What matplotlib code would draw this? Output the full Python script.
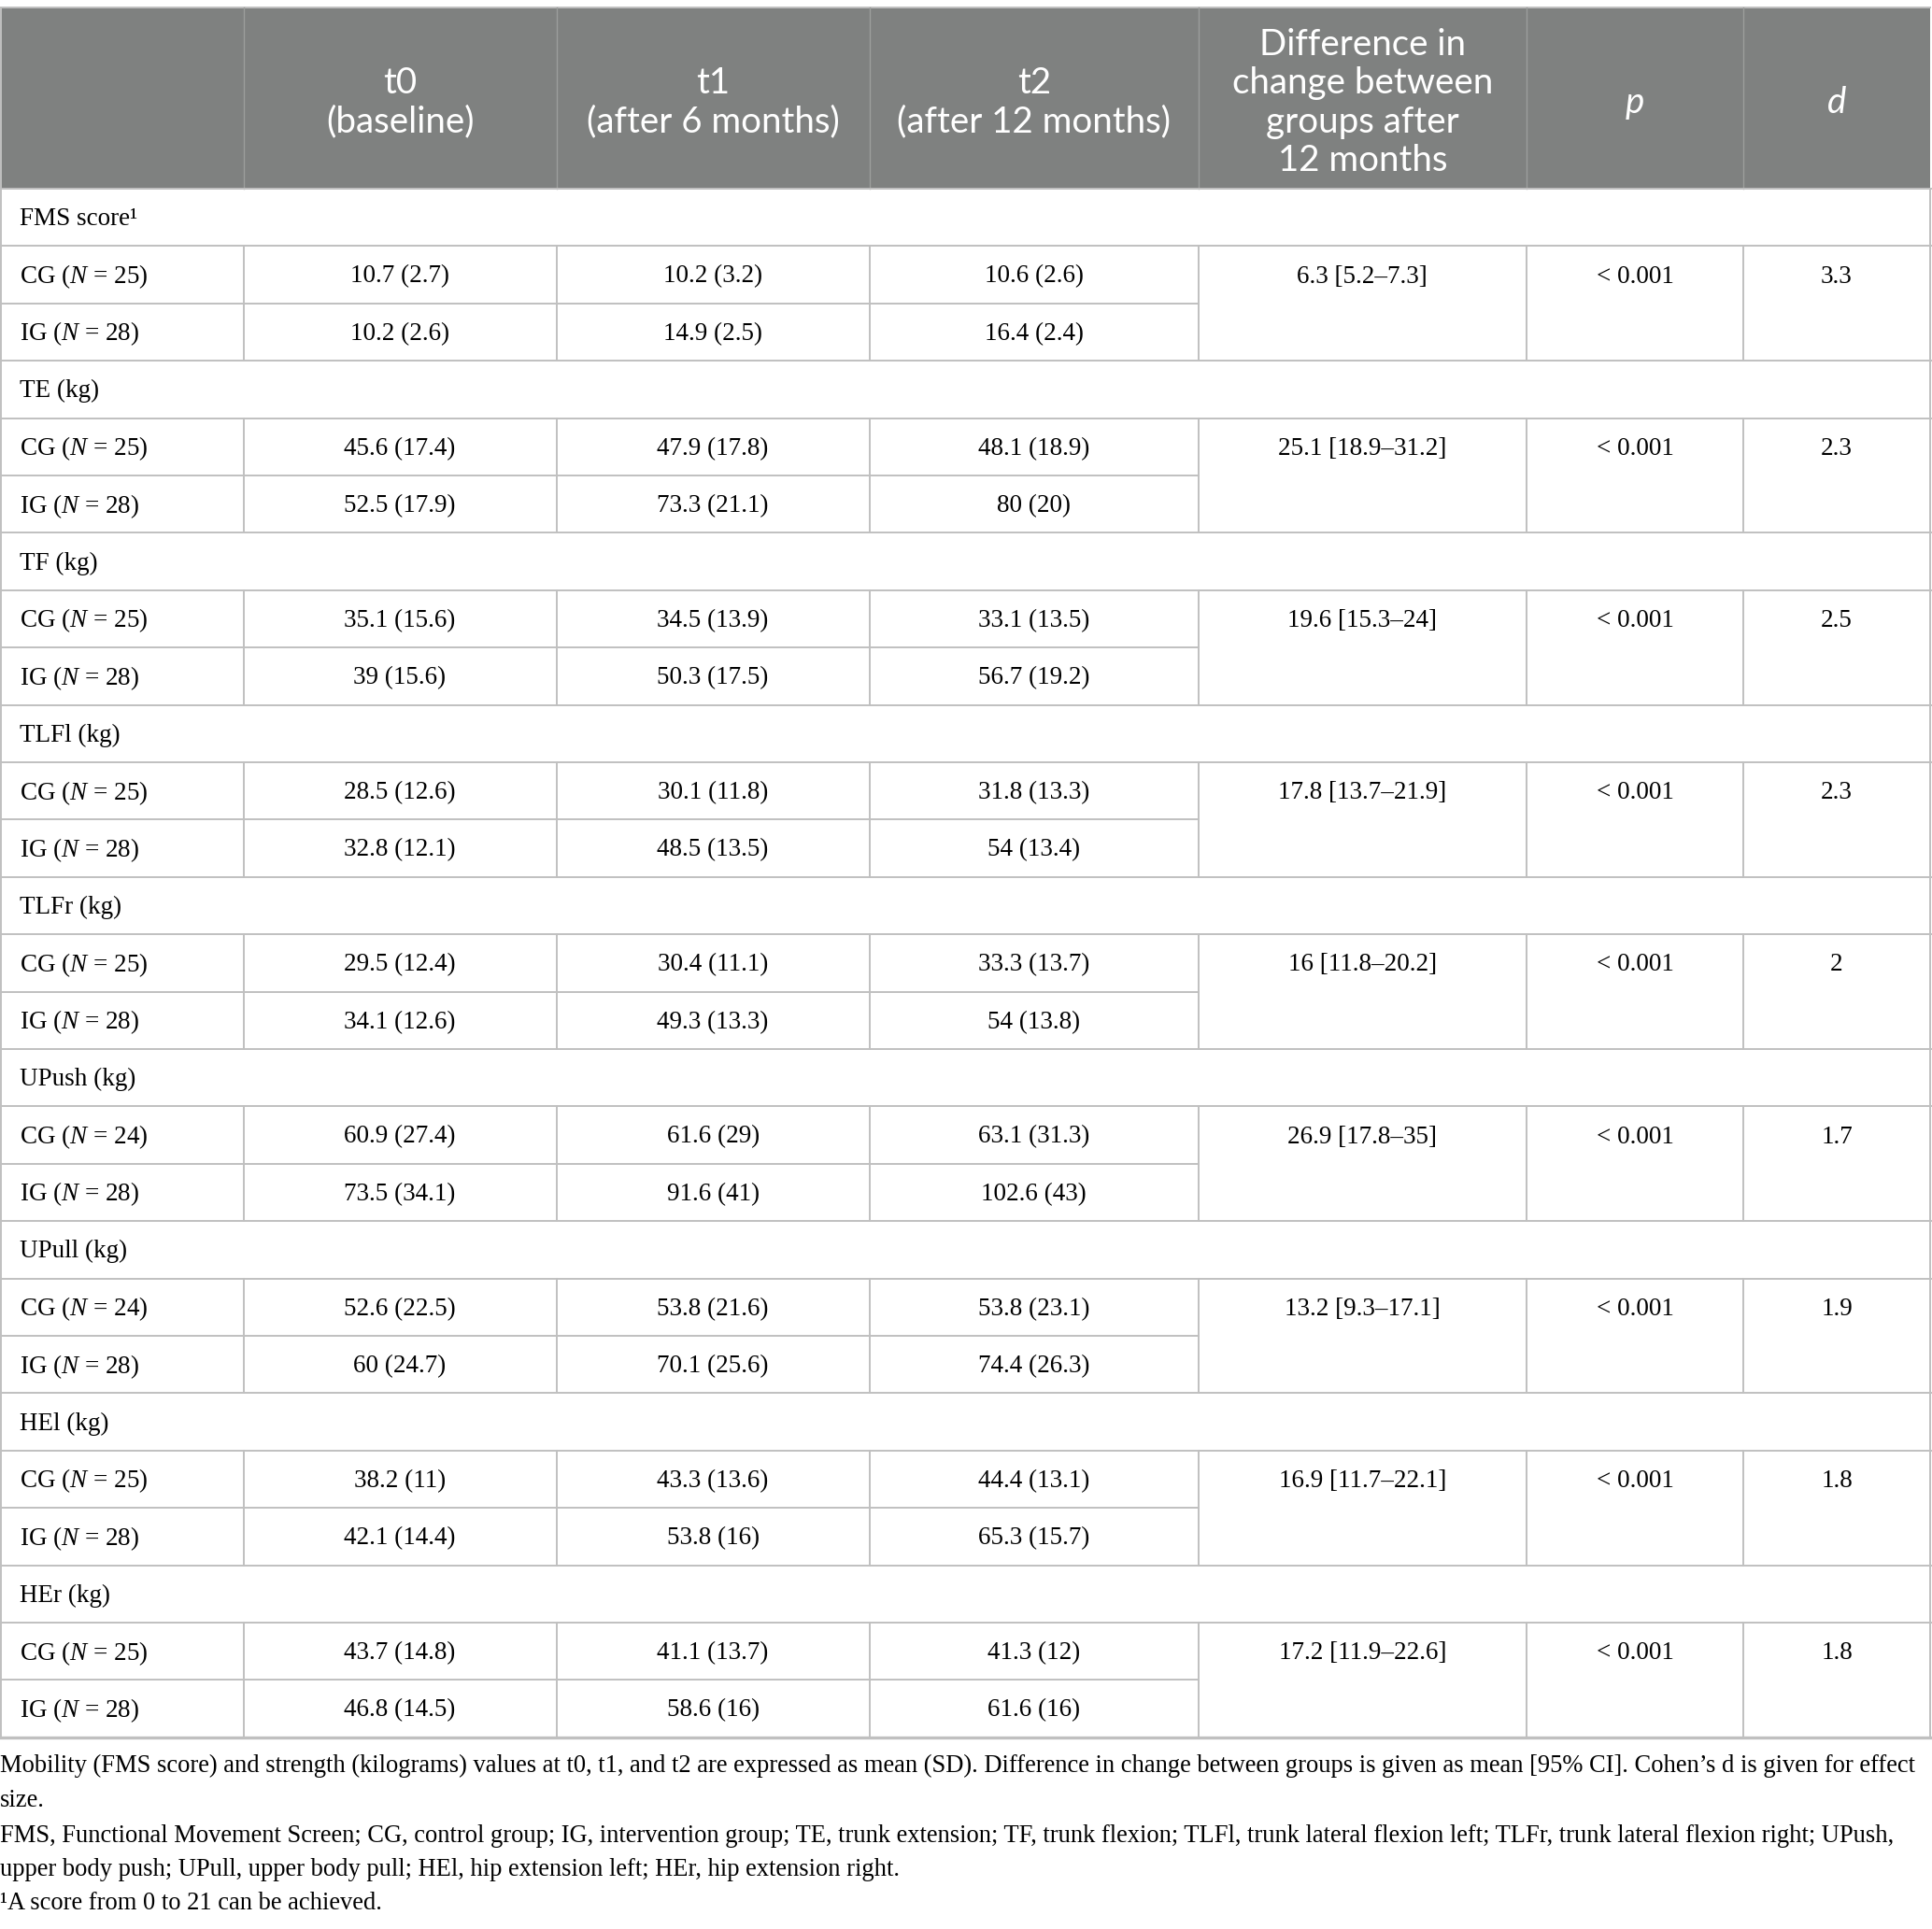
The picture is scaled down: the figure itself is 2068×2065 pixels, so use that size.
import matplotlib
matplotlib.use("Agg")
import matplotlib.pyplot as plt

plt.rcParams['mathtext.fontset'] = 'custom'
plt.rcParams['mathtext.rm'] = 'Liberation Serif'
plt.rcParams['mathtext.it'] = 'Liberation Serif:italic'

# ---- table data ----
measures = ["FMS score\u00b9", "TE (kg)", "TF (kg)", "TLFl (kg)", "TLFr (kg)",
            "UPush (kg)", "UPull (kg)", "HEl (kg)", "HEr (kg)"]
cg_n = [25, 25, 25, 25, 25, 24, 24, 25, 25]
ig_n = [28, 28, 28, 28, 28, 28, 28, 28, 28]

cg_t0 = [(10.7, 2.7), (45.6, 17.4), (35.1, 15.6), (28.5, 12.6), (29.5, 12.4),
         (60.9, 27.4), (52.6, 22.5), (38.2, 11), (43.7, 14.8)]
cg_t1 = [(10.2, 3.2), (47.9, 17.8), (34.5, 13.9), (30.1, 11.8), (30.4, 11.1),
         (61.6, 29), (53.8, 21.6), (43.3, 13.6), (41.1, 13.7)]
cg_t2 = [(10.6, 2.6), (48.1, 18.9), (33.1, 13.5), (31.8, 13.3), (33.3, 13.7),
         (63.1, 31.3), (53.8, 23.1), (44.4, 13.1), (41.3, 12)]
ig_t0 = [(10.2, 2.6), (52.5, 17.9), (39, 15.6), (32.8, 12.1), (34.1, 12.6),
         (73.5, 34.1), (60, 24.7), (42.1, 14.4), (46.8, 14.5)]
ig_t1 = [(14.9, 2.5), (73.3, 21.1), (50.3, 17.5), (48.5, 13.5), (49.3, 13.3),
         (91.6, 41), (70.1, 25.6), (53.8, 16), (58.6, 16)]
ig_t2 = [(16.4, 2.4), (80, 20), (56.7, 19.2), (54, 13.4), (54, 13.8),
         (102.6, 43), (74.4, 26.3), (65.3, 15.7), (61.6, 16)]

diff_change = [(6.3, 5.2, 7.3), (25.1, 18.9, 31.2), (19.6, 15.3, 24), (17.8, 13.7, 21.9),
               (16, 11.8, 20.2), (26.9, 17.8, 35), (13.2, 9.3, 17.1), (16.9, 11.7, 22.1),
               (17.2, 11.9, 22.6)]
p_values = ["< 0.001"] * 9
cohens_d = [3.3, 2.3, 2.5, 2.3, 2, 1.7, 1.9, 1.8, 1.8]

headers = [[""], ["t0", "(baseline)"], ["t1", "(after 6 months)"], ["t2", "(after 12 months)"],
           ["Difference in", "change between", "groups after", "12 months"], ["p"], ["d"]]

footnotes = [
    "Mobility (FMS score) and strength (kilograms) values at t0, t1, and t2 are expressed as mean (SD). "
    "Difference in change between groups is given as mean [95% CI]. Cohen\u2019s d is given for effect",
    "size.",
    "FMS, Functional Movement Screen; CG, control group; IG, intervention group; TE, trunk extension; "
    "TF, trunk flexion; TLFl, trunk lateral flexion left; TLFr, trunk lateral flexion right; UPush,",
    "upper body push; UPull, upper body pull; HEl, hip extension left; HEr, hip extension right.",
    "\u00b9A score from 0 to 21 can be achieved.",
]

# ---- layout (pixels) ----
W, H = 2068, 2065
col_x = [0, 260.5, 595.6, 930.7, 1282.7, 1634, 1866, 2066]
top, head_bot, row_h = 8, 202, 61.4
line_c = '#c0c0c0'
head_c = '#7f8180'
serif = 'Liberation Serif'
sans = 'Lato'
body_fs = 19.5


fig = plt.figure(figsize=(W / 100, H / 100), dpi=100)
ax = fig.add_axes([0, 0, 1, 1])
ax.set_xlim(0, W)
ax.set_ylim(H, 0)
ax.axis('off')
renderer = fig.canvas.get_renderer()


def fit_size(txt, family, target_px, guess=20):
    # scale a font size so that txt is about target_px wide
    t = ax.text(0, 0, txt, fontsize=guess, family=family)
    w = t.get_window_extent(renderer).width
    t.remove()
    return guess * target_px / w


head_fs = fit_size("(after 6 months)", sans, 271)
foot_fs = fit_size(footnotes[0], serif, 2054)


def fmt(m_sd):
    return f"{m_sd[0]:g} ({m_sd[1]:g})"


# header
ax.fill_between([col_x[0], col_x[-1]], top, head_bot, color=head_c, lw=0)
ax.plot([col_x[0], col_x[-1]], [top, top], color=line_c, lw=1.4)
for x in col_x[1:-1]:
    ax.plot([x, x], [top, head_bot], color='#9c9e9c', lw=1.0)
head_mid = 110
head_gap = 41.3
for i, lines in enumerate(headers):
    cx = (col_x[i] + col_x[i + 1]) / 2
    n = len(lines)
    for j, txt in enumerate(lines):
        y = head_mid + (j - (n - 1) / 2) * head_gap
        style = 'italic' if txt in ('p', 'd') else 'normal'
        ax.text(cx, y, txt, ha='center', va='center', color='white',
                fontsize=head_fs, family=sans, style=style)

# body rows
centers = [(col_x[i] + col_x[i + 1]) / 2 for i in range(len(col_x) - 1)]
y = head_bot
for k, name in enumerate(measures):
    # section row
    ax.plot([0, W], [y, y], color=line_c, lw=1.4)
    ax.text(21, y + row_h / 2 + 2, name, ha='left', va='center',
            fontsize=body_fs, family=serif)
    y1 = y + row_h
    y2 = y1 + row_h
    y3 = y2 + row_h
    ax.plot([0, W], [y1, y1], color=line_c, lw=1.4)
    ax.plot([0, col_x[4]], [y2, y2], color=line_c, lw=1.4)
    for x in col_x:
        ax.plot([x, x], [y1, y3], color=line_c, lw=1.4)
    rows = [
        (f"CG ($N$ = {cg_n[k]})", cg_t0[k], cg_t1[k], cg_t2[k], y1),
        (f"IG ($N$ = {ig_n[k]})", ig_t0[k], ig_t1[k], ig_t2[k], y2),
    ]
    for label, a, b, c, ry in rows:
        cy = ry + row_h / 2 + 2
        ax.text(21, cy, label, ha='left', va='center', fontsize=body_fs, family=serif)
        for ci, val in zip([1, 2, 3], [a, b, c]):
            ax.text(centers[ci], cy, fmt(val), ha='center', va='center',
                    fontsize=body_fs, family=serif)
    cy = y1 + row_h / 2 + 2
    m, lo, hi = diff_change[k]
    ax.text(centers[4], cy, f"{m:g} [{lo:g}\u2013{hi:g}]", ha='center', va='center',
            fontsize=body_fs, family=serif)
    ax.text(centers[5], cy, p_values[k], ha='center', va='center',
            fontsize=body_fs, family=serif)
    ax.text(centers[6], cy, f"{cohens_d[k]:g}", ha='center', va='center',
            fontsize=body_fs, family=serif)
    y = y3

# outer borders
ax.plot([0, W], [y, y], color=line_c, lw=2.4)
ax.plot([1, 1], [top, y], color=line_c, lw=1.4)
ax.plot([W - 2, W - 2], [head_bot, y], color=line_c, lw=1.4)

# footnotes
foot_y = [1890, 1927, 1965, 2002, 2038]
for fy, txt in zip(foot_y, footnotes):
    ax.text(0, fy, txt, ha='left', va='center', fontsize=foot_fs, family=serif)

fig.savefig('out.png', dpi=100)
